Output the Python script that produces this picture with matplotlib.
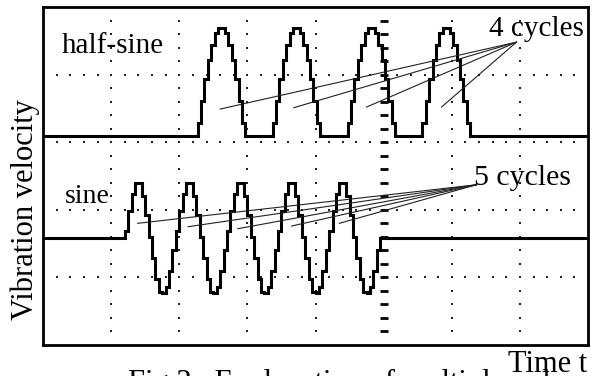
import numpy as np
import matplotlib
matplotlib.use("Agg")
import matplotlib.pyplot as plt

# ---------------- data (oscilloscope divisions) ----------------
# horizontal: 8 divisions, vertical: 5 divisions
sample_step = 0.05          # time between digitised samples (div)

# upper trace: half-sine bursts, 4 cycles (levels above the baseline)
half_sine_baseline = 3.09
half_sine_start = 2.27
half_sine_levels = [
    0.20, 0.52, 0.84, 1.12, 1.35, 1.52, 1.60, 1.60, 1.52, 1.35, 1.12, 0.84, 0.52, 0.20,
    0.0, 0.0, 0.0, 0.0, 0.0, 0.0, 0.0, 0.0,
    0.20, 0.52, 0.84, 1.12, 1.35, 1.52, 1.60, 1.60, 1.52, 1.35, 1.12, 0.84, 0.52, 0.20,
    0.0, 0.0, 0.0, 0.0, 0.0, 0.0, 0.0, 0.0,
    0.20, 0.52, 0.84, 1.12, 1.35, 1.52, 1.60, 1.60, 1.52, 1.35, 1.12, 0.84, 0.52, 0.20,
    0.0, 0.0, 0.0, 0.0, 0.0, 0.0, 0.0, 0.0,
    0.20, 0.52, 0.84, 1.12, 1.35, 1.52, 1.60, 1.60, 1.52, 1.35, 1.12, 0.84, 0.52, 0.20,
]

# lower trace: sine burst, 5 cycles (levels about the baseline)
sine_baseline = 1.58
sine_start = 1.20
sine_levels = [
    0.10, 0.40, 0.66, 0.81, 0.81, 0.62, 0.34, 0.02, -0.30, -0.60, -0.79, -0.81, -0.72, -0.48, -0.18,
    0.10, 0.40, 0.66, 0.81, 0.81, 0.62, 0.34, 0.02, -0.30, -0.60, -0.79, -0.81, -0.72, -0.48, -0.18,
    0.10, 0.40, 0.66, 0.81, 0.81, 0.62, 0.34, 0.02, -0.30, -0.60, -0.79, -0.81, -0.72, -0.48, -0.18,
    0.10, 0.40, 0.66, 0.81, 0.81, 0.62, 0.34, 0.02, -0.30, -0.60, -0.79, -0.81, -0.72, -0.48, -0.18,
    0.10, 0.40, 0.66, 0.81, 0.81, 0.62, 0.34, 0.02, -0.30, -0.60, -0.79, -0.81, -0.72, -0.48, -0.18,
]

# annotation leader lines
half_label = "half-sine"
sine_label = "sine"
half_cycles_label = "4 cycles"
sine_cycles_label = "5 cycles"
half_apex = (6.95, 4.48)
half_targets_x = [2.60, 3.68, 4.75, 5.85]
half_targets_y = [3.49, 3.51, 3.52, 3.52]
sine_apex = (6.36, 2.37)
sine_targets_x = [1.39, 2.13, 2.86, 3.65, 4.35]
sine_targets_y = [1.80, 1.75, 1.72, 1.76, 1.80]

y_label = "Vibration velocity"
x_label = "Time t"
caption = "Fig.2   Explanation of multiple pulses"

# ---------------- figure ----------------
W, H = 593, 376
fig = plt.figure(figsize=(W / 100, H / 100), dpi=100)
fig.patch.set_facecolor("white")
ax = fig.add_axes([43 / W, 31 / H, 545 / W, 338 / H])
ax.set_xlim(0, 8)
ax.set_ylim(0, 5)
ax.set_xticks([])
ax.set_yticks([])
for s in ax.spines.values():
    s.set_linewidth(2.0)
    s.set_color("black")

serif = ["Liberation Serif", "DejaVu Serif"]

# dotted graticule
dots_x = np.arange(1, 40) * 0.2
dots_y = np.arange(1, 25) * 0.2
for gy in [1, 2, 3, 4]:
    ax.plot(dots_x, np.full_like(dots_x, gy), ls="none", marker="s", ms=1.7,
            mew=0, color="#222222", zorder=1)
for gx in [1, 2, 3, 4, 6, 7]:
    ax.plot(np.full_like(dots_y, gx), dots_y, ls="none", marker="s", ms=1.7,
            mew=0, color="#222222", zorder=1)
# centre axis with tick dashes
ax.plot(np.full_like(dots_y, 5), dots_y, ls="none", marker="_", ms=5.5,
        mew=2.0, color="black", zorder=1)


def step_trace(start, base, levels):
    n = len(levels)
    xs = [0.0] + [start + i * sample_step for i in range(n)] + [start + n * sample_step, 8.0]
    ys = [base] + [base + v for v in levels] + [base, base]
    return xs, ys


tx, ty = step_trace(half_sine_start, half_sine_baseline, half_sine_levels)
ax.step(tx, ty, where="post", color="black", lw=2.2, zorder=3, solid_joinstyle="miter")
sx, sy = step_trace(sine_start, sine_baseline, sine_levels)
ax.step(sx, sy, where="post", color="black", lw=2.2, zorder=3, solid_joinstyle="miter")

# leader lines
for x, y in zip(half_targets_x, half_targets_y):
    ax.plot([x, half_apex[0]], [y, half_apex[1]], color="#222222", lw=0.8, zorder=4)
for x, y in zip(sine_targets_x, sine_targets_y):
    ax.plot([x, sine_apex[0]], [y, sine_apex[1]], color="#222222", lw=0.8, zorder=4)

# labels inside the screen
ax.text(0.28, 4.32, half_label, fontsize=21, family=serif, va="baseline", ha="left", zorder=5)
ax.text(0.32, 2.10, sine_label, fontsize=20, family=serif, va="baseline", ha="left", zorder=5)
ax.text(6.54, 4.57, half_cycles_label, fontsize=21, family=serif, va="baseline", ha="left", zorder=5)
ax.text(6.33, 2.37, sine_cycles_label, fontsize=21.5, family=serif, va="baseline", ha="left", zorder=5)

# axis labels and caption
fig.text(25.6 / W, 1 - 210 / H, y_label, rotation=90, fontsize=22, family=serif,
         ha="center", va="center")
fig.text(587 / W, 4 / H, x_label, fontsize=22, family=serif, ha="right", va="baseline")
fig.text(128 / W, -15 / H, caption, fontsize=22, family=serif, ha="left", va="baseline")

fig.savefig("out.png", dpi=100, facecolor="white")
